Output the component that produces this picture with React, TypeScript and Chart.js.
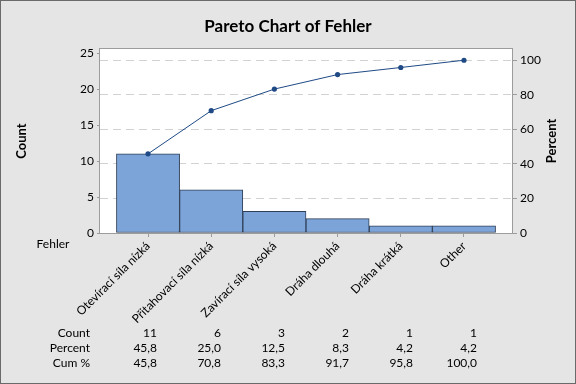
import { useEffect, useRef } from "react";
import { Chart, registerables } from "chart.js";

Chart.register(...registerables);

const chartTitle = "Pareto Chart of Fehler";
const variableName = "Fehler";
const categories = [
  "Otevírací síla nízká",
  "Přitahovací síla nízká",
  "Zavírací síla vysoká",
  "Dráha dlouhá",
  "Dráha krátká",
  "Other",
];
const counts = [11, 6, 3, 2, 1, 1];
const percents = [45.8, 25.0, 12.5, 8.3, 4.2, 4.2];
const cumPercents = [45.8, 70.8, 83.3, 91.7, 95.8, 100.0];
const countTicks = [0, 5, 10, 15, 20, 25];
const percentTicks = [0, 20, 40, 60, 80, 100];
const rowLabels = ["Count", "Percent", "Cum %"];
const percentMax = 106.5;

const FONT = "Lato, 'Open Sans', sans-serif";
const FRAME = "#9c9c9c";

const fmt = (v: number) => v.toFixed(1).replace(".", ",");

const paretoPlugin = {
  id: "paretoDecor",
  beforeDraw(chart: any) {
    const { ctx, chartArea: a, width, height } = chart;
    ctx.save();
    ctx.fillStyle = "#e5e5e5";
    ctx.fillRect(0, 0, width, height);
    ctx.fillStyle = "#ffffff";
    ctx.fillRect(a.left, a.top, a.right - a.left, a.bottom - a.top);
    ctx.restore();
  },
  afterDraw(chart: any) {
    const { ctx, chartArea: a, width, height } = chart;
    ctx.save();
    ctx.strokeStyle = FRAME;
    ctx.lineWidth = 1;
    ctx.strokeRect(a.left - 0.5, a.top - 0.5, a.right - a.left + 1, a.bottom - a.top + 1);
    ctx.strokeStyle = "#6a6a6a";
    ctx.strokeRect(0.5, 0.5, width - 1, height - 1);

    ctx.fillStyle = "#000";
    ctx.font = `bold 17px ${FONT}`;
    ctx.textAlign = "center";
    ctx.textBaseline = "alphabetic";
    ctx.fillText(chartTitle, width / 2, 31.5);

    const midY = (a.top + a.bottom) / 2;
    ctx.font = `bold 13px ${FONT}`;
    ctx.textBaseline = "middle";
    ctx.save();
    ctx.translate(22, midY);
    ctx.rotate(-Math.PI / 2);
    ctx.fillText("Count", 0, 0);
    ctx.restore();
    ctx.save();
    ctx.translate(552, midY);
    ctx.rotate(-Math.PI / 2);
    ctx.fillText("Percent", 0, 0);
    ctx.restore();

    ctx.font = `12px ${FONT}`;
    ctx.textAlign = "center";
    ctx.fillText(variableName, 53, 244);

    const rows = [
      counts.map((c) => String(c)),
      percents.map(fmt),
      cumPercents.map(fmt),
    ];
    const rowY = [333, 348, 363];
    rowLabels.forEach((lab, r) => {
      ctx.textAlign = "right";
      ctx.fillText(lab, 90, rowY[r]);
      rows[r].forEach((txt, i) => {
        ctx.fillText(txt, 157 + 64 * i, rowY[r]);
      });
    });
    ctx.restore();
  },
};

export default function App() {
  const ref = useRef<HTMLCanvasElement | null>(null);

  useEffect(() => {
    document.body.style.margin = "0";
    if (!ref.current) return;
    Chart.defaults.font.family = FONT;
    const total = counts.reduce((s, v) => s + v, 0);
    const countMax = (total * percentMax) / 100;

    const chart = new Chart(ref.current, {
      type: "bar",
      data: {
        datasets: [
          {
            type: "line",
            label: "Cum %",
            data: cumPercents.map((v, i) => ({ x: i, y: v })),
            yAxisID: "yP",
            xAxisID: "x",
            borderColor: "#1f4a86",
            backgroundColor: "#1f4a86",
            borderWidth: 1,
            pointRadius: 2.6,
            pointBorderWidth: 0,
            tension: 0,
            order: 0,
          } as any,
          {
            type: "bar",
            label: "Count",
            data: counts.map((v, i) => ({ x: i, y: v })),
            yAxisID: "y",
            xAxisID: "x",
            backgroundColor: "#7ca4d9",
            borderColor: "#2f3f57",
            borderWidth: 1,
            borderSkipped: false,
            barPercentage: 1,
            categoryPercentage: 1,
            order: 1,
          } as any,
        ],
      },
      options: {
        responsive: false,
        animation: false,
        devicePixelRatio: 1,
        layout: { padding: { top: 49, left: 0, right: 0, bottom: 0 } },
        plugins: {
          legend: { display: false },
          title: { display: false },
          tooltip: { enabled: false },
        },
        scales: {
          x: {
            type: "linear",
            position: "bottom",
            offset: false,
            min: -0.76,
            max: 5.76,
            afterBuildTicks: (s: any) => {
              s.ticks = categories.map((_, i) => ({ value: i }));
            },
            afterFit: (s: any) => {
              s.height = 151;
            },
            ticks: {
              autoSkip: false,
              minRotation: 45,
              maxRotation: 45,
              color: "#000",
              font: { size: 12, family: FONT },
              padding: 2,
              callback: (v: any) => categories[Math.round(Number(v))] ?? "",
            },
            grid: {
              offset: false,
              drawOnChartArea: false,
              drawTicks: true,
              tickLength: 4,
              tickColor: FRAME,
            },
            border: { display: false },
          },
          y: {
            type: "linear",
            position: "left",
            min: 0,
            max: countMax,
            afterBuildTicks: (s: any) => {
              s.ticks = countTicks.map((v) => ({ value: v }));
            },
            afterFit: (s: any) => {
              s.width = 100;
            },
            ticks: {
              color: "#000",
              font: { size: 12, family: FONT },
              padding: 3,
              includeBounds: false,
            },
            grid: {
              drawOnChartArea: false,
              tickLength: 3,
              tickColor: FRAME,
            },
            border: { display: false },
          },
          yP: {
            type: "linear",
            position: "right",
            min: 0,
            max: percentMax,
            afterBuildTicks: (s: any) => {
              s.ticks = percentTicks.map((v) => ({ value: v }));
            },
            afterFit: (s: any) => {
              s.width = 64;
            },
            ticks: {
              color: "#000",
              font: { size: 12, family: FONT },
              padding: 3,
              includeBounds: false,
            },
            grid: {
              drawOnChartArea: true,
              tickLength: 5,
              color: (c: any) => (c.tick && c.tick.value === 0 ? "rgba(0,0,0,0)" : "#d2d2d2"),
              tickColor: FRAME,
              tickBorderDash: [],
            } as any,
            border: { display: false, dash: [8, 5] },
          },
        },
      } as any,
      plugins: [paretoPlugin],
    });
    return () => chart.destroy();
  }, []);

  return (
    <div style={{ width: 576, height: 384 }}>
      <canvas ref={ref} width={576} height={384} style={{ display: "block" }} />
    </div>
  );
}
